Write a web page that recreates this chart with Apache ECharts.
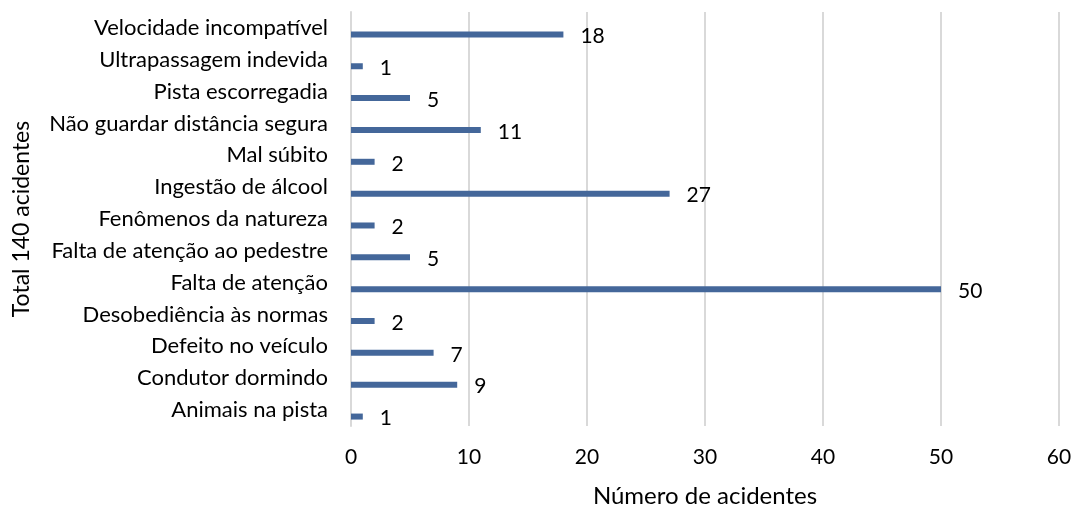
<!DOCTYPE html>
<html><head><meta charset="utf-8">
<script src="https://cdn.jsdelivr.net/npm/echarts@6/dist/echarts.min.js"></script>
<style>html,body{margin:0;padding:0;background:#fff}#c{width:1073px;height:506px}</style>
</head><body><div id="c"></div>
<script>
const categories = ["Animais na pista","Condutor dormindo","Defeito no veículo","Desobediência às normas","Falta de atenção","Falta de atenção ao pedestre","Fenômenos da natureza","Ingestão de álcool","Mal súbito","Não guardar distância segura","Pista escorregadia","Ultrapassagem indevida","Velocidade incompatível"];
const values = [1,9,7,2,50,5,2,27,2,11,5,1,18];
const xTicks = {min:0, max:60, interval:10};
const FONT = "Lato";
const chart = echarts.init(document.getElementById('c'));
chart.setOption({
  animation:false,
  grid:{left:351, right:14, top:12, bottom:80, containLabel:false, outerBoundsMode:'none'},
  xAxis:{type:'value', min:xTicks.min, max:xTicks.max, interval:xTicks.interval,
    name:'Número de acidentes', nameLocation:'middle', nameGap:58,
    nameTextStyle:{fontFamily:FONT, fontSize:24, color:'#000'},
    axisLine:{show:false}, axisTick:{show:false},
    axisLabel:{fontFamily:FONT, fontSize:21, color:'#000', margin:21},
    splitLine:{show:true, lineStyle:{color:'#d9d9d9', width:2}}},
  yAxis:{type:'category', data:categories,
    name:'Total 140 acidentes', nameLocation:'middle', nameGap:318, nameRotate:90,
    nameTextStyle:{fontFamily:FONT, fontSize:23, color:'#000'},
    axisLine:{show:true, lineStyle:{color:'#d9d9d9', width:2}}, axisTick:{show:false},
    axisLabel:{fontFamily:FONT, fontSize:22, color:'#000', margin:23}},
  series:[
    {type:'bar', data:values.map(()=>null), barWidth:6, silent:true},
    {type:'bar', data:values, barWidth:6, barGap:'116%', itemStyle:{color:'#44679a'},
     label:{show:true, position:'right', distance:17, fontFamily:FONT, fontSize:21, color:'#000', offset:[0,2]}}
  ]
});
</script></body></html>
